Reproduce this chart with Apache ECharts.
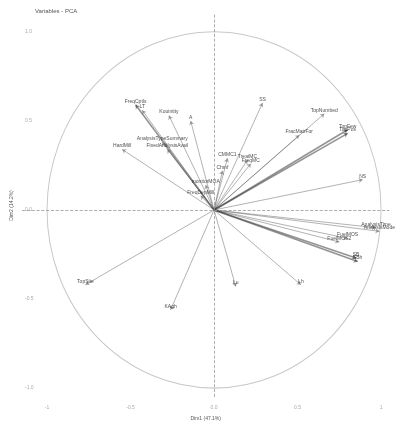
<!DOCTYPE html>
<html><head><meta charset="utf-8">
<script src="https://cdn.jsdelivr.net/npm/echarts@6/dist/echarts.min.js"></script>
<style>html,body{margin:0;padding:0;background:#fff}#c{width:395px;height:426px}</style>
</head><body><div id="c"></div>
<script>
const varNames = ["FreqCptls","LT","Kouintity","A","HardMill","AnalysisTypeSummary","FixedAnalysisAvail","FreqDepMill","monitorMOA","Chmf","CMMC1","FreqMC","TreatMC","SS","TopNumbed","FracMatrFor","TopPos","TopFew","NS","AnalysisTime","AnalysisMode","FuelMOS2","FuelMOS","SBh","SB","Lu","Lh","TopSite","KAgh"];
const dim1 = [-0.47,-0.43,-0.27,-0.14,-0.55,-0.31,-0.28,-0.08,-0.05,0.05,0.08,0.22,0.20,0.29,0.66,0.51,0.80,0.80,0.89,0.97,0.99,0.75,0.80,0.86,0.85,0.13,0.52,-0.77,-0.26];
const dim2 = [0.59,0.56,0.53,0.50,0.34,0.38,0.34,0.08,0.14,0.22,0.29,0.26,0.28,0.60,0.54,0.42,0.43,0.45,0.17,-0.10,-0.12,-0.18,-0.16,-0.29,-0.27,-0.43,-0.42,-0.42,-0.56];
const strongVars = ["FreqCptls","TopPos","TopFew","SBh","SB"];
const xTicks = [-1,-0.5,0,0.5,1];
const yTicks = [-1,-0.5,0,0.5,1];
const xTickLabels = ["-1","-0.5","0.0","0.5","1"];
const yTickLabels = ["-1.0","-0.5","0.0","0.5","1.0"];

const chart = echarts.init(document.getElementById('c'));
const lineData = varNames.map((n,i)=>({
  coords:[[0,0],[dim1[i],dim2[i]]],
  lineStyle: strongVars.includes(n) ? {color:'#2a2a2a', width:1.6} : {color:'#555', width:0.9}
}));
const labelData = varNames.map((n,i)=>[dim1[i],dim2[i],n]);
chart.setOption({
  animation:false,
  title:{text:'Variables - PCA', left:30, top:3, textStyle:{fontSize:6, fontWeight:'normal', color:'#555'}},
  grid:{left:22, right:5.6, top:14, bottom:25},
  xAxis:{type:'value', min:-1.15, max:1.05,
    name:'Dim1 (47.1%)', nameLocation:'middle', nameGap:19, nameTextStyle:{fontSize:5, color:'#555'},
    axisLine:{show:false}, axisTick:{show:false}, splitLine:{show:false},
    axisLabel:{customValues:xTicks, fontSize:5, color:'#aaa', margin:8,
      formatter:v=>xTickLabels[xTicks.indexOf(v)] ?? ''}},
  yAxis:{type:'value', min:-1.05, max:1.1,
    name:'Dim2 (14.2%)', nameLocation:'middle', nameGap:6, nameRotate:90, nameTextStyle:{fontSize:5, color:'#555'},
    axisLine:{show:false}, axisTick:{show:false}, splitLine:{show:false},
    axisLabel:{customValues:yTicks, inside:true, fontSize:5, color:'#aaa', margin:3,
      formatter:v=>yTickLabels[yTicks.indexOf(v)] ?? ''}},
  series:[
    {type:'custom', data:[[0,0]], silent:true, z:1,
      renderItem:(params, api)=>{
        const c = api.coord([0,0]);
        const s = api.size([1,1]);
        return {type:'circle', x:c[0], y:c[1], scaleY:s[1]/s[0],
          shape:{cx:0, cy:0, r:s[0]},
          style:{fill:'none', stroke:'#c8c8c8', lineWidth:1}};
      }},
    {type:'lines', coordinateSystem:'cartesian2d', z:3, silent:true,
      symbol:['none','arrow'], symbolSize:4,
      data:lineData},
    {type:'scatter', data:labelData, symbolSize:0, z:4, silent:true,
      label:{show:true, position:'top', distance:1, fontSize:5, color:'#222',
        formatter:p=>p.data[2]},
      markLine:{symbol:'none', silent:true, label:{show:false},
        lineStyle:{type:'dashed', color:'#999', width:0.8},
        data:[{xAxis:0},{yAxis:0}]}}
  ]
});
</script></body></html>
